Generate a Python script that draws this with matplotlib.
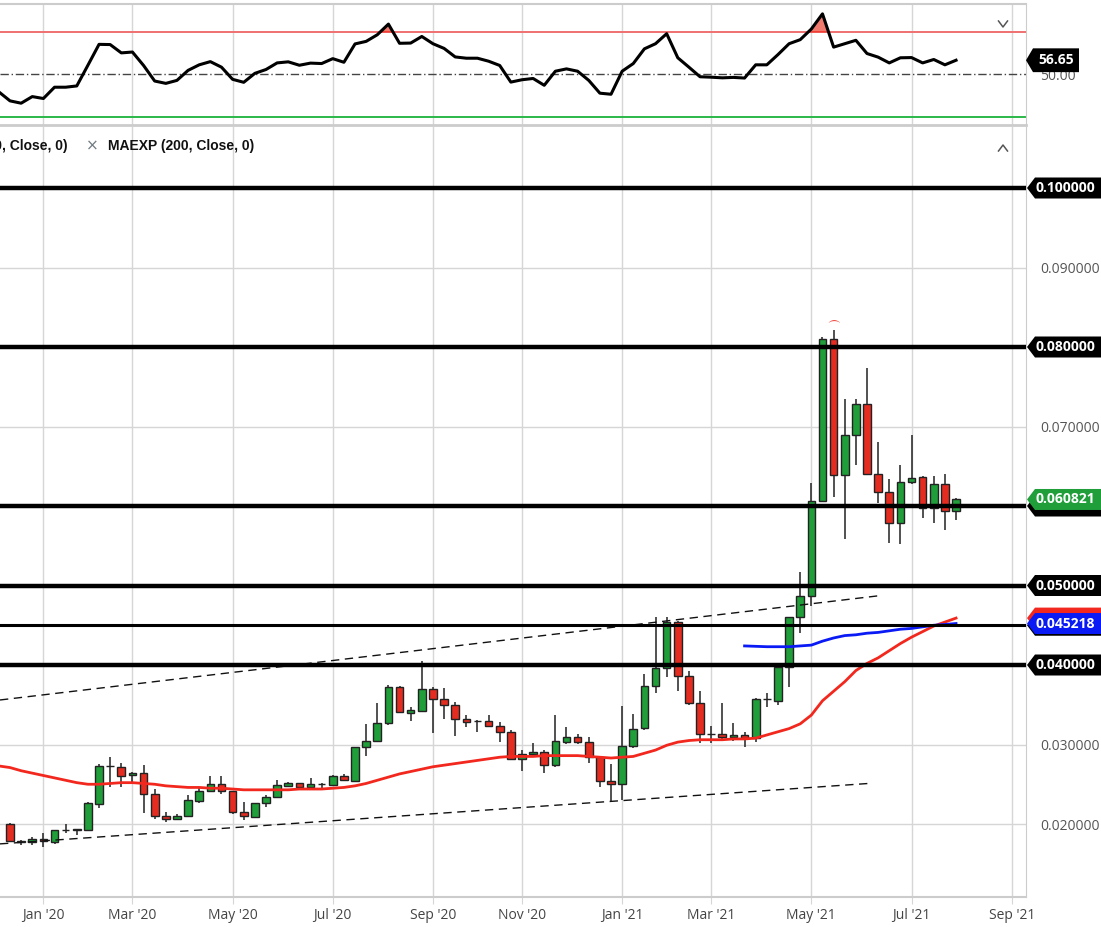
import matplotlib
matplotlib.use("Agg")
import matplotlib.pyplot as plt
import matplotlib.dates as mdates
import matplotlib.transforms as mtransforms
from matplotlib.patches import Polygon
from matplotlib.lines import Line2D
import numpy as np
import pandas as pd

# weekly candles, Dec 2019 -> Jul 2021
weeks = pd.date_range("2019-12-11", periods=86, freq="7D")

opens = [0.0200, 0.01785, 0.01775, 0.01815, 0.01778, 0.01925, 0.0193, 0.0193, 0.02252, 0.0273,
         0.02721, 0.02616, 0.02637, 0.02373, 0.02101, 0.02059, 0.02101, 0.02289, 0.02419, 0.02499,
         0.02409, 0.02147, 0.02092, 0.02268, 0.02336, 0.02482, 0.02512, 0.0246, 0.0250, 0.02491,
         0.0260, 0.02541, 0.02973, 0.0305, 0.03266, 0.03727, 0.0340, 0.03426, 0.03698, 0.03572,
         0.03491, 0.03318, 0.03296, 0.03296, 0.03237, 0.03161, 0.02818, 0.02877, 0.0290, 0.02742,
         0.03031, 0.03091, 0.03037, 0.02849, 0.02541, 0.0250, 0.02981, 0.03204, 0.03736, 0.03958,
         0.04537, 0.03864, 0.0352, 0.03134, 0.03129, 0.03091, 0.03119, 0.03082, 0.03568, 0.03551,
         0.03969, 0.04598, 0.04868, 0.06063, 0.08097, 0.06384, 0.06887, 0.07279, 0.06405, 0.0617,
         0.05783, 0.06298, 0.06362, 0.05971, 0.06277, 0.05943]
highs = [0.0201, 0.0180, 0.0184, 0.01883, 0.0193, 0.0200, 0.01942, 0.02275, 0.0275, 0.02847,
         0.02771, 0.02658, 0.02742, 0.02436, 0.02151, 0.02126, 0.02365, 0.02469, 0.0260, 0.0260,
         0.0241, 0.02281, 0.02268, 0.02365, 0.02553, 0.02533, 0.02512, 0.02575, 0.02512, 0.02621,
         0.0263, 0.02973, 0.03254, 0.03526, 0.03748, 0.0374, 0.03476, 0.0405, 0.03727, 0.03707,
         0.0354, 0.03371, 0.03308, 0.03371, 0.03287, 0.03182, 0.0293, 0.03015, 0.0293, 0.03365,
         0.03224, 0.03132, 0.03091, 0.02849, 0.02755, 0.03484, 0.03384, 0.03887, 0.04607, 0.04607,
         0.0455, 0.0393, 0.03667, 0.03233, 0.03528, 0.03266, 0.0316, 0.0358, 0.03651, 0.0398,
         0.0461, 0.05176, 0.06293, 0.08122, 0.08214, 0.07342, 0.07346, 0.07732, 0.06799, 0.06338,
         0.06516, 0.06893, 0.0638, 0.06377, 0.06399, 0.0610]
lows = [0.0177, 0.0174, 0.01742, 0.01707, 0.01745, 0.0189, 0.01858, 0.0192, 0.0220, 0.02469,
        0.02469, 0.02512, 0.02142, 0.02059, 0.02025, 0.0205, 0.02084, 0.02268, 0.02407, 0.02373,
        0.02122, 0.0205, 0.02084, 0.02218, 0.02336, 0.0247, 0.02428, 0.0244, 0.02428, 0.02491,
        0.0254, 0.02533, 0.02855, 0.0304, 0.0325, 0.03405, 0.033, 0.03426, 0.03141, 0.03317,
        0.03107, 0.03224, 0.03161, 0.03224, 0.03036, 0.02818, 0.02667, 0.02849, 0.02638, 0.0272,
        0.03002, 0.03002, 0.02771, 0.02464, 0.02281, 0.02302, 0.0296, 0.0318, 0.03651, 0.03853,
        0.03667, 0.035, 0.03025, 0.03016, 0.0305, 0.0305, 0.02966, 0.0303, 0.03467, 0.035,
        0.03722, 0.044, 0.04742, 0.06063, 0.06119, 0.05582, 0.0651, 0.06405, 0.06044, 0.05531,
        0.05518, 0.0628, 0.05845, 0.05792, 0.05698, 0.05824]
closes = [0.0178, 0.01775, 0.01815, 0.01785, 0.01925, 0.01925, 0.0193, 0.0226, 0.02733, 0.0273,
          0.02607, 0.02638, 0.02373, 0.02105, 0.02059, 0.02101, 0.02298, 0.02415, 0.02499, 0.02415,
          0.02147, 0.02101, 0.02268, 0.02344, 0.02491, 0.02512, 0.02462, 0.02504, 0.0250, 0.0260,
          0.02554, 0.02973, 0.03044, 0.03266, 0.03727, 0.03414, 0.03434, 0.03698, 0.03572, 0.03491,
          0.03318, 0.03289, 0.03296, 0.03237, 0.03161, 0.02818, 0.02877, 0.02901, 0.02742, 0.03044,
          0.03091, 0.03031, 0.02849, 0.02535, 0.02503, 0.02981, 0.03195, 0.03736, 0.03958, 0.04545,
          0.03864, 0.0352, 0.03134, 0.03134, 0.03091, 0.03125, 0.03082, 0.03572, 0.03568, 0.03969,
          0.04598, 0.04868, 0.06063, 0.08097, 0.06384, 0.06887, 0.07279, 0.06405, 0.0617, 0.05783,
          0.06298, 0.06358, 0.05971, 0.06277, 0.05943, 0.060821]

# red MAEXP line and RSI start one week before the first visible candle
ind_weeks = pd.date_range("2019-12-04", periods=87, freq="7D")
ema_red = [0.0273, 0.0271, 0.0267, 0.0264, 0.0261, 0.0258, 0.0255, 0.0252, 0.0250, 0.0250,
           0.0251, 0.0252, 0.0252, 0.0251, 0.0250, 0.0248, 0.0247, 0.0246, 0.0246, 0.0245,
           0.0245, 0.0244, 0.0243, 0.0243, 0.0243, 0.0243, 0.0243, 0.0244, 0.0244, 0.0244,
           0.0245, 0.0246, 0.0248, 0.0251, 0.0255, 0.0259, 0.0263, 0.0266, 0.0269, 0.0272,
           0.0274, 0.0276, 0.0278, 0.0280, 0.0282, 0.0284, 0.0285, 0.0285, 0.0285, 0.0286,
           0.0286, 0.0286, 0.0286, 0.0285, 0.0284, 0.0283, 0.0284, 0.0285, 0.0289, 0.0293,
           0.0299, 0.0303, 0.0305, 0.0306, 0.0306, 0.0306, 0.0307, 0.0307, 0.0308, 0.0312,
           0.0316, 0.0320, 0.0326, 0.0337, 0.0355, 0.0367, 0.0379, 0.0393, 0.0402, 0.0409,
           0.0418, 0.0427, 0.0435, 0.0442, 0.0449, 0.0454, 0.0459]
rsi = [41.8, 37.6, 36.5, 39.6, 38.7, 44.0, 44.0, 44.6, 54.3, 64.1,
       64.0, 60.1, 60.5, 54.2, 46.9, 45.8, 47.2, 51.9, 54.5, 56.0,
       53.4, 47.7, 46.3, 50.5, 52.3, 55.4, 55.9, 54.3, 55.3, 55.1,
       57.4, 55.7, 64.3, 65.5, 68.6, 73.6, 64.6, 64.7, 67.8, 64.4,
       62.2, 58.2, 57.6, 57.6, 56.2, 54.2, 46.4, 47.5, 48.1, 44.9,
       51.5, 52.6, 51.5, 47.2, 41.2, 40.7, 51.5, 55.1, 62.0, 64.4,
       69.1, 57.8, 53.4, 48.9, 48.7, 48.4, 48.6, 48.3, 54.5, 54.5,
       59.3, 64.4, 66.3, 71.3, 78.4, 62.8, 64.4, 66.0, 59.8, 58.1,
       55.4, 57.8, 57.9, 55.4, 57.0, 54.5, 56.65]

# blue MAEXP (200) only exists for the last 20 weeks
blue_weeks = weeks[66:]
ema_blue = [0.0424, 0.04235, 0.0423, 0.0423, 0.0423, 0.0424, 0.0425, 0.0430, 0.0434, 0.0437,
            0.0438, 0.0440, 0.0441, 0.0443, 0.0445, 0.0446, 0.0448, 0.0450, 0.0451, 0.045218]

levels = [0.10, 0.08, 0.06, 0.05, 0.045, 0.04]
level_labels = ["0.100000", "0.080000", "0.060000", "0.050000", "0.045000", "0.040000"]

trend_up_dates = ["2019-12-04 17:00", "2021-06-09 00:00"]
trend_up_vals = [0.0356, 0.0487]
trend_lo_dates = ["2019-12-04 17:00", "2021-06-03 00:00"]
trend_lo_vals = [0.0175, 0.0251]

price_ticks = [0.02, 0.03, 0.07, 0.09]
month_bars = [3, 11, 20, 29, 38, 46, 55, 63, 72, 81, 90]
month_labels = ["Jan '20", "Mar '20", "May '20", "Jul '20", "Sep '20", "Nov '20",
                "Jan '21", "Mar '21", "May '21", "Jul '21", "Sep '21"]

GREEN = "#1f9e3a"
RED = "#e42c21"
GRID = "#d6d6d6"
SPINE = "#cccccc"

W, H = 1101, 927
fig = plt.figure(figsize=(W / 100, H / 100), dpi=100)
ax_r = fig.add_axes([0, (H - 125) / H, 1026 / W, 121 / H])
ax = fig.add_axes([0, (H - 897) / H, 1026 / W, 770 / H], sharex=ax_r)

axis_weeks = pd.date_range("2019-12-11", periods=91, freq="7D")
tick_pos = [axis_weeks[i] for i in month_bars]

# ---------------- price panel ----------------
x = mdates.date2num(weeks)
o = np.array(opens); c = np.array(closes)
up = c >= o
cols = [GREEN if u else RED for u in up]
ax.vlines(x, lows, highs, color="#222222", lw=1.1, zorder=3)
ax.bar(x, np.maximum(np.abs(c - o), 0.00004), bottom=np.minimum(o, c), width=4.8,
       color=cols, edgecolor="#222222", linewidth=1, zorder=4)

ax.plot(ind_weeks, ema_red, color="#f2281e", lw=2, zorder=5)
ax.plot(blue_weeks, ema_blue, color="#0a1af5", lw=2, zorder=5)

ax.plot(pd.to_datetime(trend_up_dates), trend_up_vals, color="#111111", lw=1,
        dashes=(6, 4), zorder=5)
ax.plot(pd.to_datetime(trend_lo_dates), trend_lo_vals, color="#111111", lw=1,
        dashes=(6, 4), zorder=5)

for lv in levels:
    ax.axhline(lv, color="black", lw=2.2 if lv == 0.045 else 3.2, zorder=6)

# high marker above the top candle
top = int(np.argmax(highs))
ax.annotate(r"$\frown$", xy=(x[top], highs[top]), xytext=(0, 3), textcoords="offset points",
            ha="center", va="bottom", color="#f04a40", fontsize=9, zorder=7)

ax.set_xlim(pd.Timestamp("2019-12-04 17:00"), pd.Timestamp("2021-09-10"))
ax.set_ylim(0.010818, 0.107673)
ax.set_xticks(tick_pos)
ax.set_xticklabels(month_labels, fontfamily="Open Sans", fontsize=10, color="#444444")
ax.set_yticks(price_ticks)
ax.set_yticklabels(["%.6f" % t for t in price_ticks], fontfamily="Open Sans",
                   fontsize=10, color="#555555")
ax.yaxis.tick_right()
ax.tick_params(axis="y", length=0, pad=10)
ax.tick_params(axis="x", length=5, color=GRID, pad=3)
ax.grid(True, color=GRID, lw=1, zorder=0)
ax.set_axisbelow(True)
ax.spines["left"].set_visible(False)
ax.spines["top"].set_visible(False)
for s in ["right", "bottom"]:
    ax.spines[s].set_color(SPINE)
ax.spines["bottom"].set_linewidth(1.5)

# legend row
fs_leg = 10
ax.text(68 / 1026, 0.9753, "MAEXP (50, Close, 0)", transform=ax.transAxes, ha="right",
        va="center", fontfamily="Liberation Sans", fontweight="bold", fontsize=fs_leg,
        color="#111111", zorder=8)
ax.text(92 / 1026, 0.9753, "\u00d7", transform=ax.transAxes, ha="center", va="center",
        fontfamily="DejaVu Sans", fontsize=11, color="#707a80", zorder=8)
ax.text(108 / 1026, 0.9753, "MAEXP (200, Close, 0)", transform=ax.transAxes, ha="left",
        va="center", fontfamily="Liberation Sans", fontweight="bold", fontsize=fs_leg,
        color="#111111", zorder=8)

# price tags on the right
ptrans = mtransforms.blended_transform_factory(ax.transAxes, ax.transData)
ph = 10.5 / 7950.0


def tag(a, trans, yv, hh, color, text, z, tip=1027, body=1035, right=1115, tx=1036,
        ha="left"):
    f = lambda px: px / 1026.0
    pts = [(f(tip), yv), (f(body), yv + hh), (f(right), yv + hh),
           (f(right), yv - hh), (f(body), yv - hh)]
    a.add_patch(Polygon(pts, closed=True, transform=trans, clip_on=False,
                        facecolor=color, edgecolor="none", zorder=z))
    if text:
        a.text(f(tx), yv, text, transform=trans, ha=ha, va="center", color="white",
               fontfamily="Open Sans", fontweight="bold", fontsize=10, zorder=z + 0.5,
               clip_on=False)


for lv, lab in zip(levels, level_labels):
    tag(ax, ptrans, lv, ph, "black", lab if lv not in (0.06, 0.045) else "", 10)
tag(ax, ptrans, ema_red[-1], ph, "#f2281e", "", 11)
tag(ax, ptrans, ema_blue[-1], ph, "#0a1af5", "%.6f" % ema_blue[-1], 12)
tag(ax, ptrans, closes[-1], ph, GREEN, "%.6f" % closes[-1], 13)

# ---------------- RSI panel ----------------
xr = mdates.date2num(ind_weeks)
rv = np.array(rsi)
ax_r.fill_between(xr, rv, 70, where=rv > 70, interpolate=True, color="#f07a6e",
                  edgecolor="#f03a30", lw=1, zorder=3)
ax_r.axhline(70, color="#f07070", lw=1.4, zorder=2)
ax_r.axhline(30, color="#2cb84a", lw=1.4, zorder=2)
ax_r.axhline(50, color="#444444", lw=1, dashes=(6, 2, 1, 2), zorder=2)
ax_r.plot(ind_weeks, rsi, color="black", lw=2.2, zorder=4)
ax_r.set_ylim(50 - 51 / 2.15, 50 + 71 / 2.15)
ax_r.set_yticks([50])
ax_r.set_yticklabels(["50.00"], fontfamily="Open Sans", fontsize=10, color="#555555")
ax_r.yaxis.tick_right()
ax_r.tick_params(axis="y", length=0, pad=10)
ax_r.tick_params(axis="x", length=0, labelbottom=False)
ax_r.grid(True, axis="x", color=GRID, lw=1, zorder=0)
ax_r.set_axisbelow(True)
ax_r.spines["left"].set_visible(False)
for s in ["top", "right", "bottom"]:
    ax_r.spines[s].set_color(SPINE)
ax_r.spines["bottom"].set_linewidth(2)
ax_r.spines["top"].set_linewidth(1.5)

rtrans = mtransforms.blended_transform_factory(ax_r.transAxes, ax_r.transData)
tag(ax_r, rtrans, rsi[-1], 12 / 2.15, "black", "%.2f" % rsi[-1], 10, tip=1026, body=1033,
    right=1079, tx=1056, ha="center")

# collapse / expand chevrons
def chevron(cx, cy, down):
    d = 3 if down else -3
    xs = [(cx - 4.5) / W, cx / W, (cx + 4.5) / W]
    ys = [1 - (cy - d) / H, 1 - (cy + d) / H, 1 - (cy - d) / H]
    fig.add_artist(Line2D(xs, ys, transform=fig.transFigure, color="#555555", lw=1.1))


chevron(1003, 24, True)
chevron(1003, 148, False)

fig.savefig("out.png", dpi=100)
